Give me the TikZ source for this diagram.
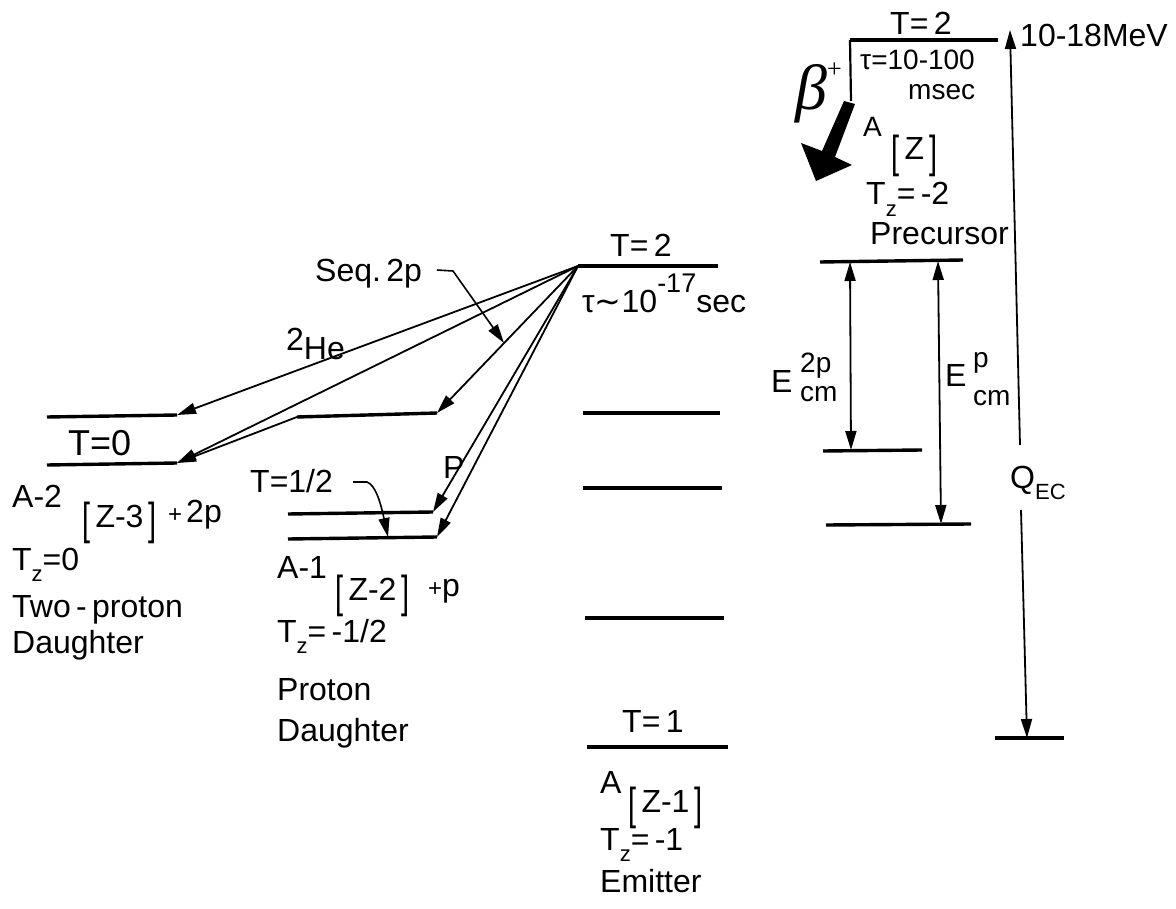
\documentclass[tikz,border=0pt]{standalone}
\usepackage{fontspec}
\usepackage{graphicx}
\setmainfont{Liberation Sans}
\newfontfamily\grkfont{Liberation Serif}
\newfontfamily\symfont{DejaVu Sans}
\usetikzlibrary{arrows.meta}
\newcommand{\Lb}{\raisebox{-0.24em}{\scalebox{0.9}[1.4]{[}}\,}
\newcommand{\Rb}{\,\raisebox{-0.24em}{\scalebox{0.9}[1.4]{]}}}
\newcommand{\sub}[1]{\raisebox{-0.35em}{\fontsize{22}{24}\selectfont #1}}
\begin{document}
\begin{tikzpicture}[x=1pt,y=-1pt,
  lvl/.style={line width=3.4pt},
  arr/.style={line width=1.8pt,-{Triangle[length=19pt,width=11pt]}},
  darr/.style={line width=1.8pt,{Triangle[length=19pt,width=11pt]}-{Triangle[length=19pt,width=11pt]}},
  lbl/.style={font=\fontsize{32}{34}\selectfont, inner sep=0pt, anchor=base west},
  big/.style={font=\fontsize{36}{38}\selectfont, inner sep=0pt, anchor=base west},
  sm/.style={font=\fontsize{28}{30}\selectfont, inner sep=0pt, anchor=base west}]
\useasboundingbox (0,0) rectangle (1176,909);

% ---------------- Precursor ----------------
\coordinate (pl) at (850,40); \coordinate (pr) at (998,40);
\coordinate (pb) at (851,101);
\draw[lvl] (pl) -- (pr);
\draw[line width=2.2pt] (pl) -- (pb);
\fill (844,101) -- (855,104) -- (835,157) -- (852,165) -- (816,181) -- (801,143) -- (822,151) -- cycle;
\node[lbl] (tp) at (890,35) {T=\,2};
\node[sm] (tau1) at (860,70) {τ=10-100};
\node[sm] (msec) at (908,100) {msec};
\node[inner sep=0pt,anchor=base west] (beta) at (795,110) {\grkfont\itshape\fontsize{64}{66}\selectfont β\raisebox{0.5em}{\fontsize{26}{28}\selectfont\upshape +}};
\node[sm] (az) at (863,137) {A};
\node[lbl] (azb) at (891,160) {\Lb Z\Rb};
\node[lbl] (tzm2) at (866,205) {T\sub{z}=\,-2};
\node[lbl] (prec) at (870,245) {Precursor};

% Q_EC
\coordinate (qt) at (1010,30); \coordinate (qb) at (1027,738);
\coordinate (qs1) at (1020,445); \coordinate (qs2) at (1021,510);
\draw[arr] (qs1) -- (qt);
\draw[arr] (qs2) -- (qb);
\draw[lvl] (995,738) coordinate (bl) -- (1064,738) coordinate (br);
\node[lbl] (mev) at (1020,47) {10-18MeV};
\node[lbl] (qec) at (1010,488) {Q\sub{EC}};

% E_cm
\draw[lvl] (820,262) coordinate (el1) -- (963,260) coordinate (er1);
\draw[lvl] (823,451) coordinate (el2) -- (922,450) coordinate (er2);
\draw[lvl] (826,525) coordinate (el3) -- (971,524) coordinate (er3);
\coordinate (a1t) at (850,262); \coordinate (a1b) at (851,450);
\coordinate (a2t) at (938,261); \coordinate (a2b) at (941,524);
\draw[darr] (a1t) -- (a1b);
\draw[darr] (a2t) -- (a2b);
\node[lbl] (e2p) at (771,392) {E};
\node[sm] (e2ps) at (800,373) {2p};
\node[sm] (e2pc) at (800,402) {cm};
\node[lbl] (ep) at (945,387) {E};
\node[sm] (eps) at (973,368) {p};
\node[sm] (epc) at (973,406) {cm};

% ---------------- Emitter ----------------
\coordinate (S) at (578,266);
\draw[lvl] (S) -- (718,266) coordinate (e2r);
\draw[lvl] (583,413) coordinate (m1l) -- (720,413) coordinate (m1r);
\draw[lvl] (583,488) coordinate (m2l) -- (722,488) coordinate (m2r);
\draw[lvl] (585,618) coordinate (m3l) -- (724,618) coordinate (m3r);
\draw[lvl] (587,747) coordinate (m4l) -- (728,747) coordinate (m4r);
\node[lbl] (t2) at (610,257) {T=\,2};
\node[lbl] (tau2) at (582,313) {τ{\symfont ∼}10\raisebox{0.65em}{\fontsize{27}{28}\selectfont -17}sec};
\node[lbl] (t1) at (622,732) {T=\,1};
\node[lbl] (azm1) at (600,793) {A};
\node[lbl] (azm1b) at (628,812) {\Lb Z-1\Rb};
\node[lbl] (tzm1) at (600,850) {T\sub{z}=\,-1};
\node[lbl] (emit) at (600,892) {Emitter};

% ---------------- Two-proton daughter ----------------
\draw[lvl] (47,417) coordinate (d1l) -- (177,415) coordinate (d1r);
\draw[lvl] (47,465) coordinate (d2l) -- (177,463) coordinate (d2r);
\node[big] (t0) at (68,455) {T=0};
\draw[arr] (S) -- (d1r);
\draw[arr] (S) -- (d2r);
\node[lbl] (he) at (286,360) {\raisebox{0.3em}{2}He};
\node[lbl] (a2) at (12,507) {A-2};
\node[lbl] (a2b) at (82,527) {\Lb Z-3\Rb};
\node[lbl] (a2c) at (168,522) {\fontsize{24}{26}\selectfont+\,\fontsize{32}{34}\selectfont 2p};
\node[lbl] (tz0) at (12,570) {T\sub{z}=0};
\node[lbl] (twop) at (12,617) {Two\,-\,proton};
\node[lbl] (dau1) at (12,653) {Daughter};

% sequential
\draw[lvl] (297,417) coordinate (sl) -- (437,413) coordinate (sr);
\draw[arr] (S) -- (sr);
\draw[arr] (sl) -- (d2r);
\node[lbl] (seq) at (315,282) {Seq.\,2p};
\coordinate (seqa) at (437,270);
\coordinate (seqk) at (453,271);
\coordinate (seqt) at (504,343);
\draw[arr,line width=1.6pt] (seqa) -- (seqk) -- (seqt);

% ---------------- Proton daughter ----------------
\draw[lvl] (288,514) coordinate (pl1) -- (433,512) coordinate (pr1);
\draw[lvl] (288,539) coordinate (pl2) -- (437,537) coordinate (pr2);
\draw[arr] (S) -- (pr1);
\draw[arr] (S) -- (pr2);
\node[lbl] (plab) at (443,478) {P};
\node[lbl] (thalf) at (250,492) {T=1/2};
\coordinate (ha) at (353,482);
\coordinate (hk) at (367,482);
\coordinate (ht) at (388,537);
\draw[arr,line width=1.6pt] (ha) -- (hk) .. controls (375,485) and (380,500) .. (ht);
\node[lbl] (a1) at (277,578) {A-1};
\node[lbl] (a1b) at (335,600) {\Lb Z-2\Rb};
\node[lbl] (a1c) at (428,596) {\fontsize{24}{26}\selectfont+\fontsize{32}{34}\selectfont p};
\node[lbl] (tzh) at (277,642) {T\sub{z}=\,-1/2};
\node[lbl] (prot) at (277,700) {Proton};
\node[lbl] (dau2) at (277,741) {Daughter};
\end{tikzpicture}
\end{document}
